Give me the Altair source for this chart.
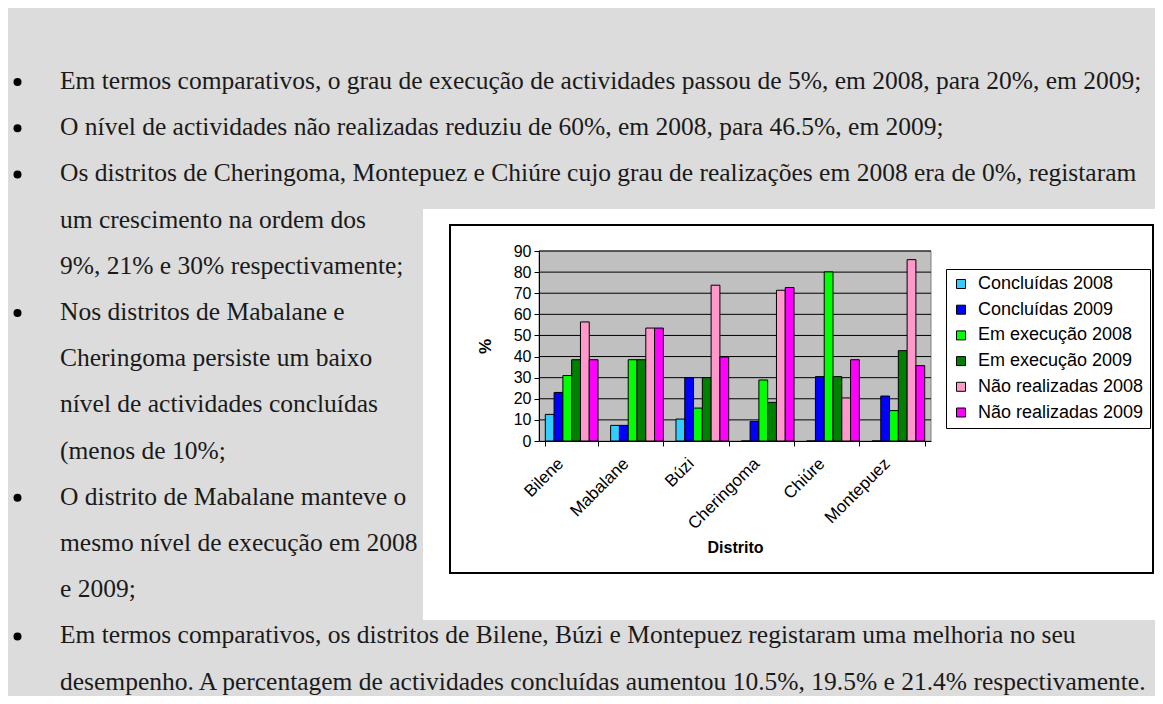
import altair as alt
import pandas as pd

# ---------------- data ----------------
districts = ["Bilene", "Mabalane", "Búzi", "Cheringoma", "Chiúre", "Montepuez"]
series = ["Concluídas 2008", "Concluídas 2009", "Em execução 2008",
          "Em execução 2009", "Não realizadas 2008", "Não realizadas 2009"]
concluidas_2008 = [12.6, 7.4, 10.4, 0.0, 0.0, 0.0]
concluidas_2009 = [23.0, 7.4, 30.0, 9.3, 30.5, 21.3]
execucao_2008 = [31.0, 38.5, 15.6, 28.9, 80.1, 14.4]
execucao_2009 = [38.5, 38.5, 30.0, 18.3, 30.5, 42.8]
nao_realizadas_2008 = [56.4, 53.5, 73.8, 71.4, 20.4, 85.9]
nao_realizadas_2009 = [38.5, 53.5, 39.8, 72.7, 38.5, 35.7]
y_ticks = [0, 10, 20, 30, 40, 50, 60, 70, 80, 90]

text_lines = [
    "Em termos comparativos, o grau de execução de actividades passou de 5%, em 2008, para 20%, em 2009;",
    "O nível de actividades não realizadas reduziu de 60%, em 2008, para 46.5%, em 2009;",
    "Os distritos de Cheringoma, Montepuez e Chiúre cujo grau de realizações em 2008 era de 0%, registaram",
    "um crescimento na ordem dos",
    "9%, 21% e 30% respectivamente;",
    "Nos distritos de Mabalane e",
    "Cheringoma persiste um baixo",
    "nível de actividades concluídas",
    "(menos de 10%;",
    "O distrito de Mabalane manteve o",
    "mesmo nível de execução em 2008",
    "e 2009;",
    "Em termos comparativos, os distritos de Bilene, Búzi e Montepuez registaram uma melhoria no seu",
    "desempenho. A percentagem de actividades concluídas aumentou 10.5%, 19.5% e 21.4% respectivamente.",
]
bullet_flags = [True, True, True, False, False, True, False, False, False,
                True, False, False, True, False]

# ---------------- styles / layout ----------------
colors = ["#33CCFF", "#0000FF", "#00FF00", "#008000", "#FF99CC", "#FF00FF"]
SANS = "Liberation Sans, Arial, sans-serif"
SERIF = "Liberation Serif, Times New Roman, serif"
PAGE_BG = "#dcdcdc"

W, H = 392, 190          # plot area
PX0, PY0 = 539, 251      # page position of plot origin
CANVAS_W, CANVAS_H = 1147, 688

# text baselines on the page (uniform line spacing)
FIRST_BASELINE, LINE_STEP = 89, 46.2
baselines = [FIRST_BASELINE + LINE_STEP * i for i in range(len(text_lines))]


def rx(X):
    return X - PX0


def ry(Y):
    return Y - PY0


all_vals = [concluidas_2008, concluidas_2009, execucao_2008,
            execucao_2009, nao_realizadas_2008, nao_realizadas_2009]
rows = []
for s, vals in zip(series, all_vals):
    for d, v in zip(districts, vals):
        rows.append({"Distrito": d, "Serie": s, "Valor": v})
df = pd.DataFrame(rows)
grid_df = pd.DataFrame({"Valor": y_ticks[1:]})

one = pd.DataFrame({"k": [0]})

y_scale = alt.Scale(domain=[0, 90], nice=False)
y_axis = alt.Axis(title="%", values=y_ticks, grid=False,
                  labelFont=SANS, labelFontSize=16, labelColor="black",
                  labelPadding=3, tickSize=5, tickColor="black",
                  domainColor="black", titleFont=SANS, titleFontSize=17,
                  titleFontWeight="bold", titleColor="black",
                  titlePadding=19, zindex=1)

# background boxes
white_box = alt.Chart(one).mark_rect(fill="white", stroke=None).encode(
    x=alt.value(rx(423)), x2=alt.value(rx(1175)),
    y=alt.value(ry(209)), y2=alt.value(ry(620)))
frame = alt.Chart(one).mark_rect(fill="white", stroke="black", strokeWidth=2).encode(
    x=alt.value(rx(450)), x2=alt.value(rx(1153)),
    y=alt.value(ry(225)), y2=alt.value(ry(573)))
plot_bg = alt.Chart(one).mark_rect(fill="#c0c0c0", stroke="#808080", strokeWidth=1).encode(
    x=alt.value(0), x2=alt.value(W), y=alt.value(0), y2=alt.value(H))

grid = alt.Chart(grid_df).mark_rule(color="black", strokeWidth=1).encode(
    y=alt.Y("Valor:Q", scale=y_scale, axis=y_axis))

bars = alt.Chart(df).mark_bar(stroke="black", strokeWidth=1).encode(
    x=alt.X("Distrito:N", sort=districts,
            scale=alt.Scale(paddingInner=0.193, paddingOuter=0.0965),
            axis=alt.Axis(title="Distrito", labelAngle=-45, tickBand="extent",
                          labelFont=SANS, labelFontSize=17, labelColor="black",
                          labelPadding=9, labelOffset=-17, tickSize=5,
                          tickColor="black", domainColor="black",
                          titleFont=SANS, titleFontSize=16,
                          titleFontWeight="bold", titleColor="black",
                          titlePadding=8, zindex=1)),
    xOffset=alt.XOffset("Serie:N", sort=series,
                        scale=alt.Scale(paddingInner=0, paddingOuter=0)),
    y=alt.Y("Valor:Q", scale=y_scale, axis=y_axis),
    color=alt.Color("Serie:N", sort=series,
                    scale=alt.Scale(domain=series, range=colors),
                    legend=alt.Legend(title=None, orient="none",
                                      legendX=rx(946), legendY=ry(269),
                                      fillColor="white", strokeColor="black",
                                      padding=6, rowPadding=7.7, symbolType="square",
                                      symbolSize=81, symbolStrokeColor="black",
                                      symbolStrokeWidth=1, labelFont=SANS,
                                      labelFontSize=18, labelColor="black",
                                      labelOffset=8, labelLimit=400)),
)

layers = [white_box, frame, plot_bg, grid, bars]

for line, is_bullet, yb in zip(text_lines, bullet_flags, baselines):
    layers.append(
        alt.Chart(one).mark_text(text=line, align="left", baseline="alphabetic",
                                 font=SERIF, fontSize=25.5, color="#1a1a1a").encode(
            x=alt.value(rx(60)), y=alt.value(ry(yb))))
    if is_bullet:
        layers.append(
            alt.Chart(one).mark_circle(size=64, color="#000000", opacity=1).encode(
                x=alt.value(rx(17.5)), y=alt.value(ry(yb - 7))))

chart = alt.layer(*layers).properties(
    width=W, height=H, autosize="none",
    padding={"left": PX0 - 8, "top": PY0 - 8,
             "right": CANVAS_W - (PX0 - 8) - W,
             "bottom": CANVAS_H - (PY0 - 8) - H},
).configure(background=PAGE_BG).configure_view(stroke=None)

chart.save("out.html", embed_options={"renderer": "svg", "actions": False})
